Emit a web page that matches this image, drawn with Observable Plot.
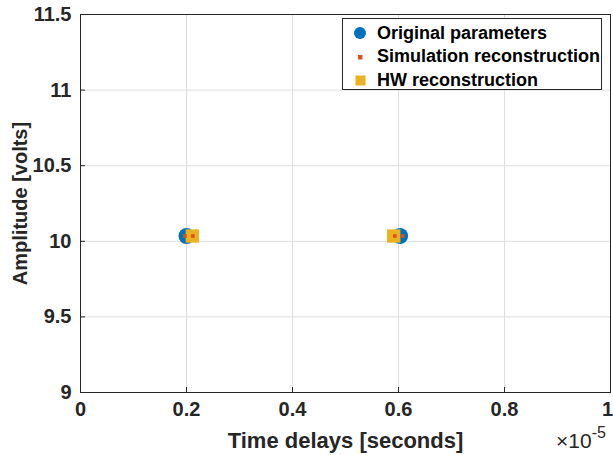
<!DOCTYPE html>
<html>
<head>
<meta charset="utf-8">
<script src="https://cdn.jsdelivr.net/npm/d3@7"></script>
<script src="https://cdn.jsdelivr.net/npm/@observablehq/plot@0.6"></script>
<style>
  html, body { margin: 0; padding: 0; background: #fff; }
  #wrap { position: relative; width: 613px; height: 455px; font-family: "Liberation Sans", Arial, Helvetica, sans-serif; }
  #legend { position: absolute; left: 342px; top: 18px; width: 260px; height: 72px; border: 1px solid #262626; background: #fff; box-sizing: border-box; }
  .row { position: absolute; left: 0; height: 22px; display: flex; align-items: center; font-weight: bold; font-size: 18px; color: #000; white-space: nowrap; }
  .row svg { width: 34px; height: 22px; }
  #exp { position: absolute; left: 556px; top: 426px; font-size: 21px; color: #262626; white-space: nowrap; }
  #exp sup { font-size: 16px; position: relative; top: -2px; }
</style>
</head>
<body>
<div id="wrap"></div>
<script>
// ---- data (x in seconds, y in volts) ----
const originalX = [0.2e-5, 0.603e-5];
const originalY = [10.035, 10.035];
const simX = [0.197e-5, 0.212e-5, 0.593e-5, 0.608e-5];
const simY = [10.035, 10.035, 10.035, 10.035];
const hwX = [0.211e-5, 0.591e-5];
const hwY = [10.035, 10.035];
const xTicks = [0, 0.2e-5, 0.4e-5, 0.6e-5, 0.8e-5, 1e-5];
const xTickLabels = ["0", "0.2", "0.4", "0.6", "0.8", "1"];
const yTicks = [9, 9.5, 10, 10.5, 11, 11.5];
const yTickLabels = ["9", "9.5", "10", "10.5", "11", "11.5"];
const seriesNames = ["Original parameters", "Simulation reconstruction", "HW reconstruction"];
const colors = ["#0072BD", "#D95319", "#EDB120"];

const original = originalX.map((x, i) => ({x, y: originalY[i]}));
const sim = simX.map((x, i) => ({x, y: simY[i]}));
const hw = hwX.map((x, i) => ({x, y: hwY[i]}));

const axisColor = "#262626";
const plot = Plot.plot({
  width: 613,
  height: 455,
  marginLeft: 80,
  marginRight: 3,
  marginTop: 14,
  marginBottom: 63,
  style: {fontFamily: '"Liberation Sans", Arial, Helvetica, sans-serif', background: "#fff"},
  x: {domain: [0, 1e-5]},
  y: {domain: [9, 11.5]},
  marks: [
    Plot.gridX(xTicks, {stroke: "#dedede", strokeOpacity: 1}),
    Plot.gridY(yTicks, {stroke: "#dedede", strokeOpacity: 1}),
    Plot.frame({stroke: axisColor}),
    Plot.axisX({ticks: xTicks, tickFormat: (d, i) => xTickLabels[i], tickSize: -5, tickPadding: 14,
      stroke: axisColor, fill: axisColor, fontSize: 20, fontWeight: "bold",
      label: "Time delays [seconds]", labelAnchor: "center", labelOffset: 55, labelArrow: "none"}),
    Plot.axisY({ticks: yTicks, tickFormat: (d, i) => yTickLabels[i], tickSize: -5, tickPadding: 14,
      stroke: axisColor, fill: axisColor, fontSize: 20, fontWeight: "bold",
      label: "Amplitude [volts]", labelAnchor: "center", labelOffset: 68, labelArrow: "none"}),
    Plot.dot(original, {x: "x", y: "y", r: 8, fill: colors[0], stroke: "none"}),
    Plot.dot(hw, {x: "x", y: "y", r: 8.5, symbol: "square2", fill: colors[2], stroke: "none"}),
    Plot.dot(sim, {x: "x", y: "y", r: 2.3, symbol: "square2", fill: colors[1], stroke: "none"})
  ]
});
const setFont = (sel, size) => plot.querySelectorAll(sel).forEach(t => {
  t.setAttribute("font-size", size);
  t.setAttribute("font-weight", "bold");
  t.style.fontSize = size + "px";
  t.style.fontWeight = "bold";
});
setFont('[aria-label="x-axis label"] text', 22);
setFont('[aria-label="y-axis label"] text', 20);
// keep the last x tick label inside the picture
const xLabels = plot.querySelectorAll('[aria-label="x-axis tick label"] text');
if (xLabels.length) xLabels[xLabels.length - 1].setAttribute("dx", "-3");

const wrap = document.getElementById("wrap");
wrap.appendChild(plot);

// legend
const legend = document.createElement("div");
legend.id = "legend";
const markerSvg = [
  `<svg viewBox="0 0 34 22"><circle cx="17" cy="11" r="6" fill="${colors[0]}"/></svg>`,
  `<svg viewBox="0 0 34 22"><rect x="15" y="9" width="4.5" height="4.5" fill="${colors[1]}"/></svg>`,
  `<svg viewBox="0 0 34 22"><rect x="12.5" y="6.5" width="10" height="10" fill="${colors[2]}"/></svg>`
];
seriesNames.forEach((name, i) => {
  const r = document.createElement("div");
  r.className = "row";
  r.style.top = (3 + i * 23.5) + "px";
  r.innerHTML = markerSvg[i] + `<span>${name}</span>`;
  legend.appendChild(r);
});
wrap.appendChild(legend);

const exp = document.createElement("div");
exp.id = "exp";
exp.innerHTML = "×10<sup>-5</sup>";
wrap.appendChild(exp);
</script>
</body>
</html>
